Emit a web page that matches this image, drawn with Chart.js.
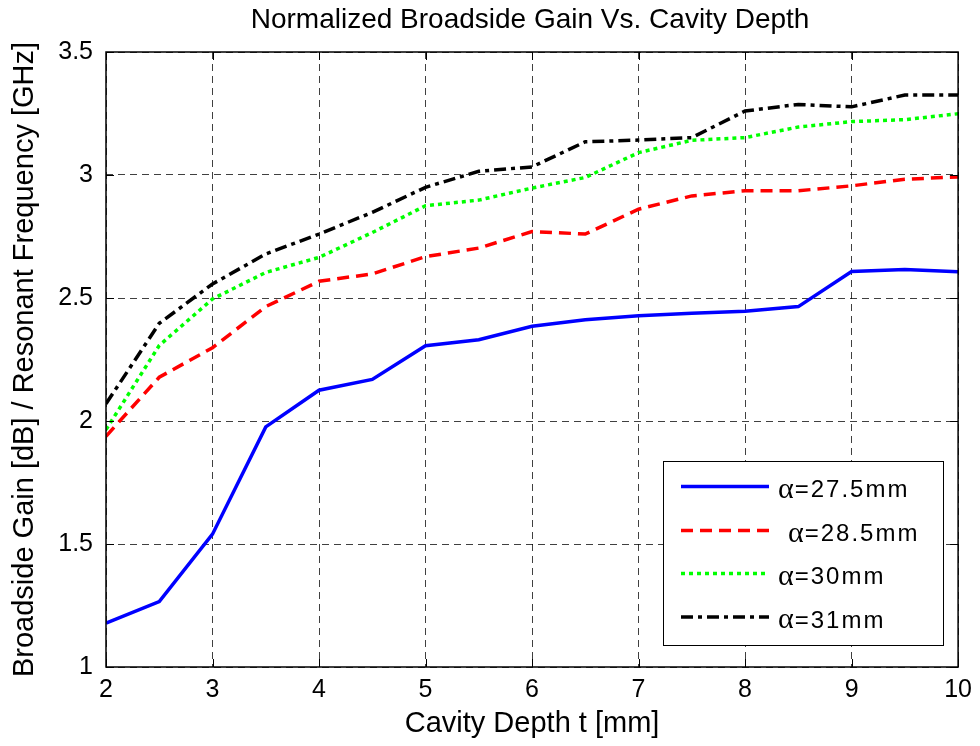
<!DOCTYPE html>
<html>
<head>
<meta charset="utf-8">
<script src="https://cdn.jsdelivr.net/npm/chart.js@4.4.1/dist/chart.umd.min.js"></script>
<style>
html,body{margin:0;padding:0;background:#fff;}
#wrap{width:980px;height:746px;position:relative;}
</style>
</head>
<body>
<div id="wrap"><canvas id="c" width="980" height="746"></canvas></div>
<script>
const depth = [2, 2.5, 3, 3.5, 4, 4.5, 5, 5.5, 6, 6.5, 7, 7.5, 8, 8.5, 9, 9.5, 10];
const gainA275 = [1.178, 1.266, 1.54, 1.976, 2.125, 2.169, 2.306, 2.33, 2.385, 2.412, 2.428, 2.438, 2.446, 2.465, 2.608, 2.616, 2.607];
const gainA285 = [1.938, 2.178, 2.298, 2.465, 2.568, 2.598, 2.668, 2.703, 2.770, 2.760, 2.861, 2.915, 2.936, 2.936, 2.956, 2.983, 2.992];
const gainA30  = [1.965, 2.307, 2.496, 2.604, 2.665, 2.766, 2.875, 2.898, 2.947, 2.990, 3.091, 3.141, 3.152, 3.195, 3.217, 3.225, 3.249];
const gainA31  = [2.070, 2.397, 2.557, 2.679, 2.760, 2.848, 2.950, 3.015, 3.033, 3.135, 3.142, 3.152, 3.260, 3.287, 3.277, 3.325, 3.325];
const seriesLabels = ['α=27.5mm', ' α=28.5mm', 'α=30mm', 'α=31mm'];
const xTicks = [2, 3, 4, 5, 6, 7, 8, 9, 10];
const yTicks = [1, 1.5, 2, 2.5, 3, 3.5];
const chartTitle = 'Normalized Broadside Gain Vs. Cavity Depth';

const toPts = arr => depth.map((d, i) => ({x: d, y: arr[i]}));
const FONT = "'Liberation Sans', Arial, sans-serif";

const frameTicks = {
  id: 'frameTicks',
  afterDatasetsDraw(chart) {
    const {ctx, chartArea: a, scales} = chart;
    ctx.save();
    ctx.strokeStyle = '#000';
    ctx.lineWidth = 1.5;
    ctx.setLineDash([]);
    ctx.strokeRect(a.left, a.top, a.right - a.left, a.bottom - a.top);
    ctx.lineWidth = 1;
    const L = 8;
    xTicks.forEach(v => {
      const px = Math.round(scales.x.getPixelForValue(v)) + 0.5;
      ctx.beginPath();
      ctx.moveTo(px, a.bottom); ctx.lineTo(px, a.bottom - L);
      ctx.moveTo(px, a.top); ctx.lineTo(px, a.top + L);
      ctx.stroke();
    });
    yTicks.forEach(v => {
      const py = Math.round(scales.y.getPixelForValue(v)) + 0.5;
      ctx.beginPath();
      ctx.moveTo(a.left, py); ctx.lineTo(a.left + L, py);
      ctx.moveTo(a.right, py); ctx.lineTo(a.right - L, py);
      ctx.stroke();
    });
    ctx.restore();
  }
};

const topTitle = {
  id: 'topTitle',
  afterDraw(chart) {
    const {ctx, chartArea: a} = chart;
    ctx.save();
    ctx.fillStyle = '#000';
    ctx.font = '28px ' + FONT;
    ctx.textAlign = 'center';
    ctx.textBaseline = 'alphabetic';
    ctx.fillText(chartTitle, (a.left + a.right) / 2 - 2, 28);
    ctx.restore();
  }
};

const boxLegend = {
  id: 'boxLegend',
  afterDraw(chart) {
    const {ctx} = chart;
    const bx = 663, by = 461, bw = 280, bh = 184;
    ctx.save();
    ctx.fillStyle = '#fff';
    ctx.fillRect(bx, by, bw, bh);
    ctx.strokeStyle = '#000';
    ctx.lineWidth = 1;
    ctx.setLineDash([]);
    ctx.strokeRect(bx + 0.5, by + 0.5, bw, bh);
    const rowsY = [486.5, 530.5, 573.5, 617];
    chart.data.datasets.forEach((ds, i) => {
      const y = rowsY[i];
      ctx.strokeStyle = ds.borderColor;
      ctx.lineWidth = ds.borderWidth;
      ctx.setLineDash(ds.borderDash || []);
      ctx.lineCap = 'butt';
      ctx.beginPath();
      ctx.moveTo(681, y); ctx.lineTo(769, y);
      ctx.stroke();
      ctx.setLineDash([]);
      const label = ds.label;
      const lead = label.startsWith(' ') ? 10 : 0;
      const rest = label.trim().slice(1);
      ctx.fillStyle = '#000';
      ctx.textBaseline = 'alphabetic';
      ctx.textAlign = 'left';
      ctx.font = "30px 'Liberation Serif', 'Times New Roman', serif";
      const ax = 778 + lead;
      ctx.fillText('α', ax, y + 11);
      const aw = ctx.measureText('α').width;
      ctx.font = "24px " + FONT;
      try { ctx.letterSpacing = '2px'; } catch (e) {}
      ctx.fillText(rest, ax + aw + 1, y + 10.5);
      try { ctx.letterSpacing = '0px'; } catch (e) {}
    });
    ctx.restore();
  }
};

const gridCfg = {
  color: 'rgba(0,0,0,0.75)',
  lineWidth: 1,
  drawTicks: false
};

new Chart(document.getElementById('c'), {
  type: 'line',
  data: {
    datasets: [
      {label: seriesLabels[0], data: toPts(gainA275), borderColor: '#0000ff', borderWidth: 3.5, borderDash: [], pointRadius: 0, fill: false, tension: 0},
      {label: seriesLabels[1], data: toPts(gainA285), borderColor: '#ff0000', borderWidth: 3.5, borderDash: [12, 7], pointRadius: 0, fill: false, tension: 0},
      {label: seriesLabels[2], data: toPts(gainA30), borderColor: '#00ff00', borderWidth: 3.5, borderDash: [4, 4], pointRadius: 0, fill: false, tension: 0},
      {label: seriesLabels[3], data: toPts(gainA31), borderColor: '#000000', borderWidth: 3.5, borderDash: [12, 5, 4, 5], pointRadius: 0, fill: false, tension: 0}
    ]
  },
  options: {
    responsive: false,
    animation: false,
    devicePixelRatio: 1,
    layout: {padding: {left: 0, right: 19, top: 52, bottom: 0}},
    plugins: {
      legend: {display: false},
      tooltip: {enabled: false},
      title: {display: false}
    },
    scales: {
      x: {
        type: 'linear', min: 2, max: 10,
        afterBuildTicks: s => { s.ticks = xTicks.map(v => ({value: v})); },
        afterFit: s => { s.height = 79; },
        grid: Object.assign({}, gridCfg),
        border: {display: false, dash: [7, 5]},
        ticks: {color: '#000', font: {family: FONT, size: 25}, padding: 8, maxRotation: 0, autoSkip: false,
                callback: v => String(v)},
        title: {display: true, text: 'Cavity Depth t [mm]', color: '#000', font: {family: FONT, size: 29}, padding: {top: 2, bottom: 5}}
      },
      y: {
        type: 'linear', min: 1, max: 3.5,
        afterBuildTicks: s => { s.ticks = yTicks.map(v => ({value: v})); },
        afterFit: s => { s.width = 106; },
        grid: Object.assign({}, gridCfg),
        border: {display: false, dash: [7, 5]},
        ticks: {color: '#000', font: {family: FONT, size: 25}, padding: 13, autoSkip: false,
                callback: v => String(v)},
        title: {display: true, text: 'Broadside Gain [dB] / Resonant Frequency [GHz]', color: '#000', font: {family: FONT, size: 29}, padding: {top: 8, bottom: 0}}
      }
    }
  },
  plugins: [frameTicks, topTitle, boxLegend]
});
</script>
</body>
</html>
